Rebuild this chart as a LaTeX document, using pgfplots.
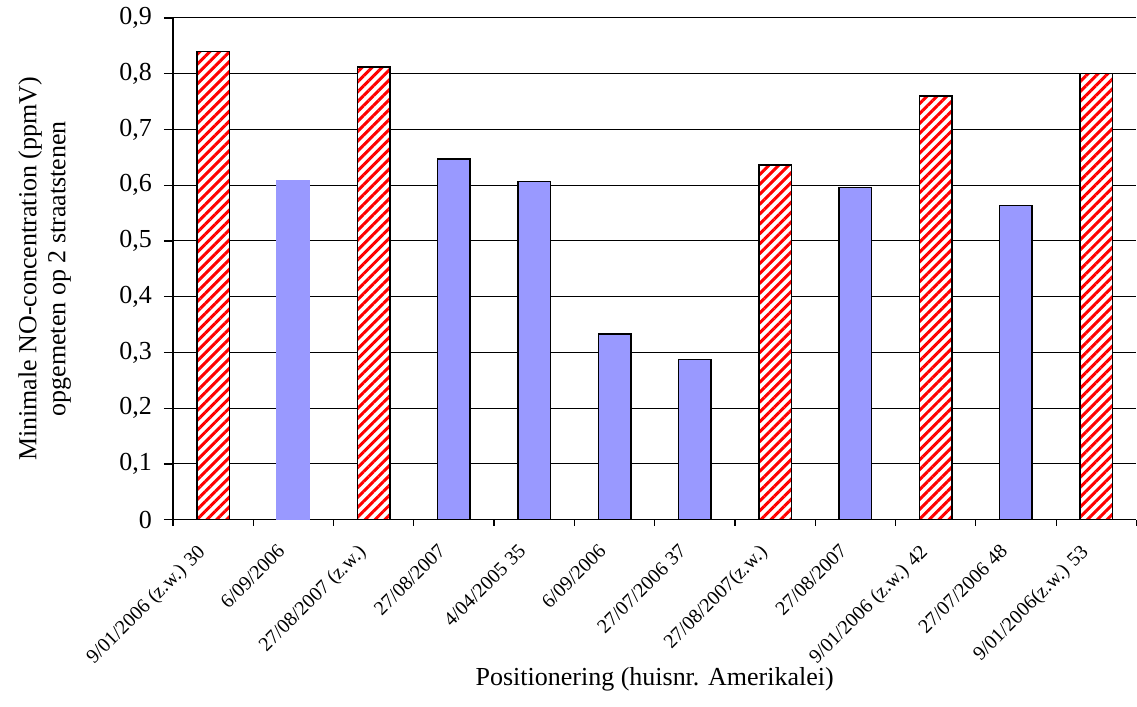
\documentclass[border=0pt]{standalone}
\usepackage{fontspec}
\setmainfont{Liberation Serif}
\usepackage{pgfplots}
\pgfplotsset{compat=1.18}
\usetikzlibrary{patterns.meta}
\definecolor{lavender}{HTML}{9999FF}

\begin{document}
\begin{tikzpicture}
\begin{axis}[
  scale only axis,
  width=482pt, height=251pt,
  xmin=-0.5, xmax=11.5,
  ymin=0, ymax=0.9,
  axis x line*=bottom,
  axis y line*=left,
  axis line style={black, line width=0.6pt, -},
  tick align=outside,
  ytick={0,0.1,0.2,0.3,0.4,0.5,0.6,0.7,0.8,0.9},
  ymajorgrids,
  grid style={black, line width=0.5pt},
  major tick length=4.5pt,
  tick style={black, line width=0.6pt},
  xtick={0,...,11},
  major x tick style={draw=none},
  minor xtick={-0.5,0.5,...,11.5},
  minor x tick style={black, line width=0.6pt},
  minor tick length=3pt,
  xticklabels={
    9/01/2006 (z.w.) 30,
    6/09/2006,
    27/08/2007 (z.w.),
    27/08/2007,
    4/04/2005 35,
    6/09/2006,
    27/07/2006 37,
    27/08/2007(z.w.),
    27/08/2007,
    9/01/2006 (z.w.) 42,
    27/07/2006 48,
    9/01/2006(z.w.) 53},
  xticklabel style={font=\fontsize{10}{12}\selectfont, rotate=45, anchor=north east, inner sep=1pt, xshift=-9.9pt, yshift=2.1pt},
  yticklabel style={font=\fontsize{13}{15}\selectfont, xshift=-2.5pt},
  /pgf/number format/assume math mode=true,
  /pgf/number format/use comma,
  /pgf/number format/fixed,
  /pgf/number format/precision=1,
  xlabel={Positionering (huisnr. Amerikalei)},
  xlabel style={font=\fontsize{13}{15}\selectfont, at={(axis description cs:0.5,-0.3187)}, anchor=center},
  ylabel={Minimale NO-concentration (ppmV)\\opgemeten op 2 straatstenen},
  ylabel style={font=\fontsize{13}{14.5}\selectfont, align=center, at={(axis description cs:-0.1330,0.5)}, anchor=center},
]
% measurements taken on the zebra crossing (z.w.): hatched bars
\addplot[ybar, bar width=16.25pt, bar shift=0pt, draw=black, line width=0.75pt,
  preaction={fill=white},
  preaction={pattern={Lines[angle=45, distance=3.5pt, line width=1.5pt]}, pattern color=red}]
  coordinates {(0,0.840) (2,0.812) (7,0.636) (9,0.760) (11,0.800)};
% other positions
\addplot[ybar, bar width=16.25pt, bar shift=0pt, draw=black, line width=0.75pt, fill=lavender]
  coordinates {(3,0.647) (4,0.607) (5,0.333) (6,0.287) (8,0.596) (10,0.564)};
\addplot[ybar, bar width=17pt, bar shift=0pt, draw=none, fill=lavender]
  coordinates {(1,0.610)};
\end{axis}
\path ([xshift=-86.5pt,yshift=-93.5pt]current axis.south west) rectangle ([yshift=9pt]current axis.north east);
\end{tikzpicture}
\end{document}
